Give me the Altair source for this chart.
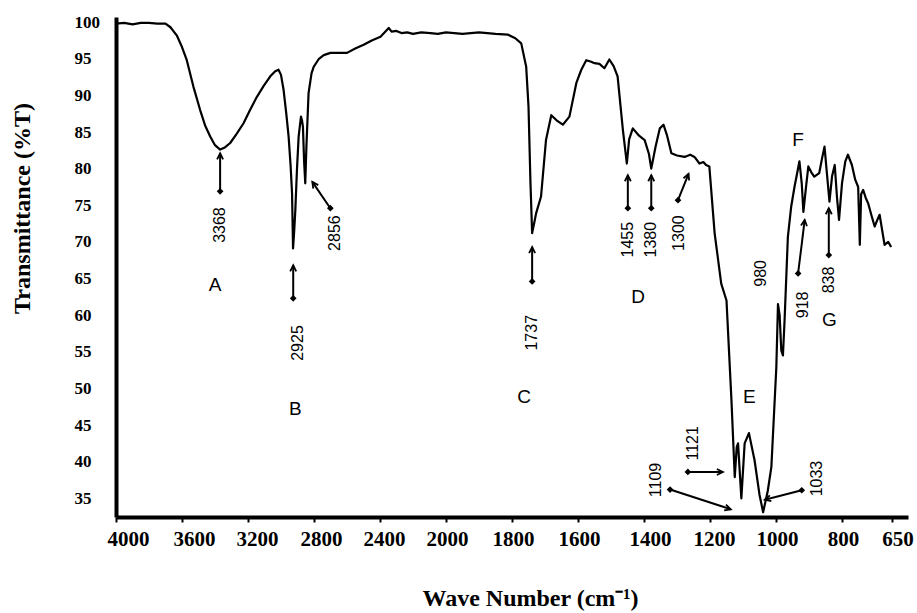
import altair as alt
import pandas as pd

# ---------------- data ----------------
wavenumber = [4000, 3950, 3900, 3850, 3800, 3750, 3700, 3670, 3632, 3600, 3571, 3531, 3490, 3460,
              3429, 3400, 3369, 3340, 3308, 3270, 3227, 3190, 3146, 3105, 3065, 3035, 3015, 3000,
              2984, 2968, 2954, 2942, 2933, 2927, 2920, 2913, 2903, 2893, 2879, 2872, 2867, 2860,
              2853, 2846, 2833, 2815, 2802, 2770, 2741, 2700, 2650, 2600, 2550, 2499, 2450, 2397,
              2347, 2330, 2300, 2270, 2235, 2200, 2150, 2094, 2050, 2000, 1950, 1900, 1850, 1813,
              1790, 1772, 1757, 1750, 1744, 1739, 1733, 1727, 1712, 1697, 1681, 1665, 1646, 1626,
              1605, 1590, 1575, 1560, 1550, 1535, 1520, 1505, 1492, 1480, 1464, 1452, 1445, 1434,
              1415, 1398, 1385, 1378, 1365, 1352, 1341, 1330, 1317, 1300, 1277, 1260, 1247, 1232,
              1220, 1212, 1202, 1186, 1166, 1150, 1135, 1125, 1119, 1115, 1105, 1095, 1082, 1065,
              1050, 1039, 1025, 1014, 999, 994, 989, 984, 979, 974, 964, 954, 944, 929, 922, 917,
              909, 902, 893, 884, 869, 860, 853, 845, 838, 830, 822, 815, 809, 800, 790, 782, 770,
              760, 751, 746, 742, 736, 728, 721, 710, 701, 693, 686, 678, 671, 660, 651]
transmittance = [99.8, 99.9, 99.7, 99.9, 99.9, 99.8, 99.8, 99.3, 98.2, 96.6, 94.8, 91.2, 88.0, 85.9,
                 84.4, 83.2, 82.6, 82.9, 83.5, 84.7, 86.2, 87.9, 89.8, 91.3, 92.6, 93.3, 93.5, 92.8,
                 90.7, 87.5, 84.4, 80.5, 76.6, 69.1, 71.5, 74.4, 80.0, 84.4, 87.1, 86.5, 85.7, 81.0,
                 78.0, 83.0, 90.3, 93.0, 93.9, 95.0, 95.5, 95.8, 95.8, 95.8, 96.4, 96.9, 97.5, 98.0,
                 99.2, 98.7, 98.8, 98.5, 98.6, 98.4, 98.6, 98.5, 98.4, 98.6, 98.4, 98.6, 98.4, 98.3,
                 97.8, 97.1, 93.9, 88.5, 78.0, 71.2, 72.5, 73.9, 76.2, 83.9, 87.3, 86.6, 86.0, 87.1,
                 91.7, 93.5, 94.8, 94.6, 94.4, 94.3, 93.7, 94.9, 94.0, 92.6, 85.3, 80.7, 84.0, 85.5,
                 84.5, 83.9, 82.0, 80.0, 83.0, 85.5, 86.0, 84.5, 82.1, 81.8, 81.6, 81.9, 81.6, 80.7,
                 80.9, 80.5, 80.3, 71.2, 64.3, 62.0, 48.4, 37.9, 42.0, 42.5, 35.0, 42.5, 43.9, 40.2,
                 35.5, 33.1, 36.0, 39.3, 52.9, 61.5, 60.0, 55.2, 54.5, 59.3, 70.7, 74.8, 77.5, 81.0,
                 78.0, 74.1, 77.5, 80.3, 79.5, 78.9, 79.4, 81.5, 83.0, 79.0, 75.5, 79.0, 80.5, 76.0,
                 73.0, 78.0, 81.0, 81.9, 80.5, 78.5, 77.5, 69.6, 76.5, 77.1, 76.0, 75.3, 73.5, 72.1,
                 73.0, 73.7, 71.5, 69.6, 70.0, 69.3]

# arrows: tail (diamond) -> head (arrow tip)
arrow_tail_wn = [3369, 2926, 2701, 1739, 1449, 1378, 1297, 933, 840, 1267, 1321, 922]
arrow_tail_t = [76.9, 62.3, 74.6, 64.6, 74.6, 74.6, 75.7, 65.7, 68.2, 38.6, 36.2, 36.1]
arrow_head_wn = [3369, 2926, 2810, 1739, 1449, 1378, 1265, 913, 840, 1161, 1137, 1034]
arrow_head_t = [82.1, 66.8, 78.2, 69.3, 79.1, 79.1, 79.3, 73.0, 74.6, 38.6, 33.5, 34.8]

# peak numbers (rotated text)
peak_text = ["3368", "2925", "2856", "1737", "1455", "1380", "1300", "980", "918", "838",
             "1121", "1109", "1033"]
peak_wn = [3369, 2895, 2671, 1739, 1449, 1378, 1295, 1044, 918, 838, 1252, 1363, 877]
peak_t = [72.3, 56.2, 71.2, 57.6, 70.3, 70.3, 71.2, 65.7, 61.4, 64.8, 42.5, 37.5, 37.7]

# region letters
letter_text = ["A", "B", "C", "D", "E", "F", "G"]
letter_wn = [3399, 2913, 1763, 1418, 1081, 933, 838]
letter_t = [64.1, 47.2, 48.8, 62.5, 48.85, 83.9, 59.3]

tick_wn = [4000, 3600, 3200, 2800, 2400, 2000, 1800, 1600, 1400, 1200, 1000, 800, 650]
y_ticks = [35, 40, 45, 50, 55, 60, 65, 70, 75, 80, 85, 90, 95, 100]

# ---------------- layout ----------------
W, H = 792, 500
XDOM = [0, 12]
YDOM = [32.45, 100.7]
KX = W / (XDOM[1] - XDOM[0])
KY = H / (YDOM[1] - YDOM[0])


def pos(wn):
    # FTIR axis: 400 cm-1 per unit above 2000, 200 cm-1 per unit below
    return (4000 - wn) / 400 if wn >= 2000 else 5 + (2000 - wn) / 200


def pos_expr(f):
    return f"datum.{f} >= 2000 ? (4000 - datum.{f}) / 400 : 5 + (2000 - datum.{f}) / 200"


tick_pos = [pos(w) for w in tick_wn]

SERIF = "Liberation Serif"
SANS = "Liberation Sans"

xs = alt.Scale(domain=XDOM, nice=False, zero=False)
ys = alt.Scale(domain=YDOM, nice=False, zero=False)

# small horizontal shifts of the x tick labels, as in the original figure
label_shift = {
    "condition": [
        {"test": "datum.value < 1.5", "value": 12},
        {"test": "datum.value < 2.5", "value": 9},
        {"test": "datum.value < 3.5", "value": 7},
        {"test": "datum.value < 4.5", "value": 4},
        {"test": "datum.value > 7.5 && datum.value < 8.5", "value": 6},
        {"test": "datum.value > 8.5 && datum.value < 9.5", "value": 4},
        {"test": "datum.value > 11.5", "value": 6},
    ],
    "value": 1,
}

x_axis = alt.Axis(
    values=tick_pos,
    labelExpr="datum.value <= 5 ? format(4000 - 400*datum.value, 'd') : format(2000 - 200*(datum.value - 5), 'd')",
    title="Wave Number (cm\u207b\u00b9)",
    titleFont=SERIF, titleFontSize=24, titleFontWeight="bold", titleColor="black",
    titleX=414, titleY=81, titleAlign="center", titleBaseline="middle",
    labelFont=SERIF, labelFontSize=21, labelFontWeight="bold", labelColor="black",
    labelPadding=6, labelFlush=False, labelOverlap=False, labelOffset=label_shift,
    domainColor="black", domainWidth=4, tickColor="black", tickWidth=2, tickSize=5,
    grid=False,
)
y_axis = alt.Axis(
    values=y_ticks, title="Transmittance (%T)",
    titleFont=SERIF, titleFontSize=24, titleFontWeight="bold", titleColor="black",
    titleX=-94, titleY=191, titleAngle=270, titleAlign="center", titleBaseline="middle",
    labelFont=SERIF, labelFontSize=17, labelFontWeight="bold", labelColor="black",
    labelAlign="left", labelPadding=42, ticks=False,
    domainColor="black", domainWidth=4, grid=False,
)

spec_df = pd.DataFrame({"wn": wavenumber, "T": transmittance})
arr_df = pd.DataFrame({"wt": arrow_tail_wn, "Tt": arrow_tail_t,
                       "wh": arrow_head_wn, "Th": arrow_head_t})
peak_df = pd.DataFrame({"label": peak_text, "wn": peak_wn, "T": peak_t})
let_df = pd.DataFrame({"label": letter_text, "wn": letter_wn, "T": letter_t})

line = alt.Chart(spec_df).transform_calculate(p=pos_expr("wn")).mark_line(
    color="black", strokeWidth=2.2, strokeJoin="round"
).encode(
    x=alt.X("p:Q", scale=xs, axis=x_axis),
    y=alt.Y("T:Q", scale=ys, axis=y_axis),
    order="p:Q",
)

rules = alt.Chart(arr_df).transform_calculate(
    p=pos_expr("wt"), p2=pos_expr("wh")
).transform_calculate(T="datum.Tt", T2="datum.Th").mark_rule(color="black", strokeWidth=2).encode(
    x=alt.X("p:Q", scale=xs, axis=x_axis), x2="p2:Q",
    y=alt.Y("T:Q", scale=ys, axis=y_axis), y2="T2:Q",
)

diamonds = alt.Chart(arr_df).transform_calculate(
    p=pos_expr("wt"), T="datum.Tt"
).mark_point(
    shape="diamond", filled=True, color="black", size=45, opacity=1
).encode(
    x=alt.X("p:Q", scale=xs, axis=x_axis),
    y=alt.Y("T:Q", scale=ys, axis=y_axis),
)

heads = alt.Chart(arr_df).transform_calculate(
    pt=pos_expr("wt"), p=pos_expr("wh"), T="datum.Th"
).transform_calculate(
    ang=f"(atan2((datum.p - datum.pt) * {KX}, (datum.Th - datum.Tt) * {KY}) * 180 / PI + 360) % 360"
).mark_point(
    shape="M -0.55 1.1 L 0 0 L 0.55 1.1", filled=False, color="black", strokeWidth=1.8,
    size=120, opacity=1
).encode(
    x=alt.X("p:Q", scale=xs, axis=x_axis),
    y=alt.Y("T:Q", scale=ys, axis=y_axis),
    angle=alt.Angle("ang:Q", scale=None),
)

peaks = alt.Chart(peak_df).transform_calculate(p=pos_expr("wn")).mark_text(
    font=SANS, fontSize=16, angle=270, color="black", align="center", baseline="middle"
).encode(
    x=alt.X("p:Q", scale=xs, axis=x_axis),
    y=alt.Y("T:Q", scale=ys, axis=y_axis),
    text="label:N",
)

letters = alt.Chart(let_df).transform_calculate(p=pos_expr("wn")).mark_text(
    font=SANS, fontSize=19, color="black", align="center", baseline="middle"
).encode(
    x=alt.X("p:Q", scale=xs, axis=x_axis),
    y=alt.Y("T:Q", scale=ys, axis=y_axis),
    text="label:N",
)

chart = alt.layer(line, rules, diamonds, heads, peaks, letters).properties(
    width=W, height=H,
    autosize=alt.AutoSizeParams(type="none"),
    padding={"left": 116, "top": 17, "right": 9, "bottom": 96},
    background="white",
).configure_view(stroke=None)

chart.save("out.html", embed_options={"renderer": "svg", "actions": False})
